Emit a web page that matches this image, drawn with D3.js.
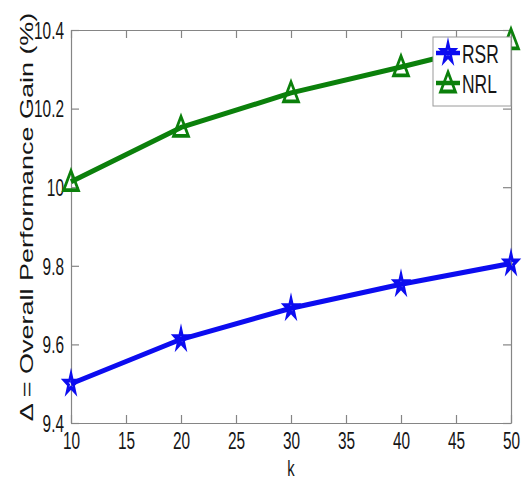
<!DOCTYPE html>
<html><head><meta charset="utf-8">
<script src="https://cdn.jsdelivr.net/npm/d3@7"></script>
<style>
html,body{margin:0;padding:0;background:#fff;}
svg{display:block;font-family:Arial,"Liberation Sans",Helvetica,sans-serif;}
</style></head>
<body>
<script>
const kValues = [10, 20, 30, 40, 50];
const rsrValues = [9.50, 9.613, 9.692, 9.753, 9.806];
const nrlValues = [10.014, 10.152, 10.24, 10.306, 10.375];
const seriesNames = ["RSR", "NRL"];
const xTicks = [10, 15, 20, 25, 30, 35, 40, 45, 50];
const yTicks = [9.4, 9.6, 9.8, 10, 10.2, 10.4];
const yTickLabels = ["9.4", "9.6", "9.8", "10", "10.2", "10.4"];
const xLabel = "k";
const yLabel = "\u0394 = Overall Performance Gain (%)";

const W = 530, H = 481;
const SQ = 0.67; // horizontal squeeze of the original
const svg = d3.select("body").append("svg").attr("width", W).attr("height", H);

const x = d3.scaleLinear().domain([10, 50]).range([71, 511]);
const y = d3.scaleLinear().domain([9.4, 10.4]).range([423, 30]);
const axisColor = "#858585";
const textColor = "#161616";

function styleAxis(g) {
  g.select(".domain").attr("stroke", axisColor).attr("stroke-width", 1.2);
  g.selectAll(".tick line").attr("stroke", axisColor).attr("stroke-width", 1.2);
}

// bottom axis
const gx = svg.append("g").attr("transform", `translate(0,${y(9.4)})`)
  .call(d3.axisBottom(x).tickValues(xTicks).tickSize(-8).tickSizeOuter(0).tickFormat(d3.format("d")));
styleAxis(gx);
gx.selectAll("text").attr("y", 26).attr("dy", null)
  .attr("font-size", 23).attr("fill", textColor).attr("font-family", "Arial, 'Liberation Sans', sans-serif")
  .attr("transform", `scale(${SQ},1)`);

// top axis (ticks only)
const gt = svg.append("g").attr("transform", `translate(0,${y(10.4)})`)
  .call(d3.axisTop(x).tickValues(xTicks).tickSize(-8).tickSizeOuter(0).tickFormat(""));
styleAxis(gt);

// left axis
const gy = svg.append("g").attr("transform", `translate(${x(10)},0)`)
  .call(d3.axisLeft(y).tickValues(yTicks).tickSize(-8).tickSizeOuter(0)
    .tickFormat((d, i) => yTickLabels[i]));
styleAxis(gy);
gy.selectAll("text").attr("x", -7 / SQ).attr("dy", "0.36em")
  .attr("font-size", 23).attr("fill", textColor).attr("font-family", "Arial, 'Liberation Sans', sans-serif")
  .attr("transform", `scale(${SQ},1)`);

// right axis (ticks only)
const gr = svg.append("g").attr("transform", `translate(${x(50)},0)`)
  .call(d3.axisRight(y).tickValues(yTicks).tickSize(-8).tickSizeOuter(0).tickFormat(""));
styleAxis(gr);

// axis labels
svg.append("text").attr("transform", `translate(${x(30)},476) scale(${SQ},1)`)
  .attr("text-anchor", "middle").attr("font-size", 22).attr("fill", textColor).text(xLabel);
svg.append("text").attr("transform", `translate(33,217) rotate(-90) scale(1,${SQ})`)
  .attr("text-anchor", "middle").attr("font-size", 27).attr("fill", textColor).text(yLabel);

// series
const series = [
  { name: seriesNames[0], values: rsrValues, color: "#0c0cf0", marker: "star" },
  { name: seriesNames[1], values: nrlValues, color: "#0b800b", marker: "tri" }
];
const starPath = d3.symbol().type(d3.symbolStar).size(110)();
const triPath = "M0,-11L11,8.5L-11,8.5Z";

const line = d3.line().x(d => x(d[0])).y(d => y(d[1]));
series.forEach(s => {
  const pts = kValues.map((k, i) => [k, s.values[i]]);
  svg.append("path").datum(pts).attr("d", line)
    .attr("fill", "none").attr("stroke", s.color).attr("stroke-width", 5)
    .attr("stroke-linejoin", "round");
  svg.selectAll(null).data(pts).enter().append("path")
    .attr("d", s.marker === "star" ? starPath : triPath)
    .attr("transform", d => `translate(${x(d[0])},${y(d[1])}) scale(${SQ},1)`)
    .attr("fill", "none").attr("stroke", s.color).attr("stroke-width", 3.8)
    .attr("stroke-linejoin", "miter");
});

// legend
const lg = svg.append("g");
lg.append("rect").attr("x", 433).attr("y", 37).attr("width", 78).attr("height", 69)
  .attr("fill", "#fff").attr("stroke", "#9a9a9a").attr("stroke-width", 1);
series.forEach((s, i) => {
  const cy = 53 + i * 30;
  lg.append("line").attr("x1", 436).attr("x2", 460).attr("y1", cy).attr("y2", cy)
    .attr("stroke", s.color).attr("stroke-width", 4.5);
  lg.append("path").attr("d", s.marker === "star" ? starPath : triPath)
    .attr("transform", `translate(448,${cy}) scale(${SQ},1)`)
    .attr("fill", "none").attr("stroke", s.color).attr("stroke-width", 3.8);
  lg.append("text").attr("transform", `translate(462,${cy + 9.5}) scale(${SQ},1)`)
    .attr("font-size", 26).attr("fill", textColor).text(s.name);
});
</script>
</body></html>
